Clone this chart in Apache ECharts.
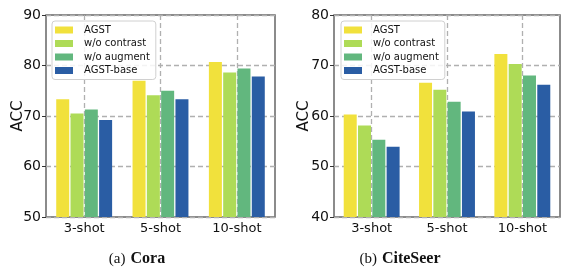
<!DOCTYPE html>
<html>
<head>
<meta charset="utf-8">
<script src="https://cdn.jsdelivr.net/npm/echarts@6/dist/echarts.min.js"></script>
<style>
  html, body { margin: 0; padding: 0; background: #fff; }
  #chart { width: 562px; height: 271px; }
</style>
</head>
<body>
<div id="chart"></div>
<script>
// Accuracy of AGST variants, few-shot settings
const categories = ['3-shot', '5-shot', '10-shot'];
const seriesNames = ['AGST', 'w/o contrast', 'w/o augment', 'AGST-base'];
const colors = ['#f1e13c', '#aedb57', '#62b77e', '#2a5da4'];

const coraValues = [
    [73.3, 77.0, 80.7],   // AGST
    [70.5, 74.1, 78.6],   // w/o contrast
    [71.3, 75.0, 79.4],   // w/o augment
    [69.2, 73.3, 77.8]    // AGST-base
];
const citeseerValues = [
    [60.3, 66.6, 72.3],
    [58.1, 65.2, 70.3],
    [55.3, 62.8, 68.0],
    [53.9, 60.9, 66.2]
];
const coraTicks = [50, 90];
const citeseerTicks = [40, 80];

const FONT = 'DejaVu Sans';
const gridLine = { show: true, lineStyle: { color: '#b0b0b0', type: [5, 3], width: 1.3 } };

function makeXAxis(gridIndex) {
    return {
        type: 'category',
        gridIndex: gridIndex,
        data: categories,
        axisLine: { show: false },
        axisTick: { show: false },
        axisLabel: { color: '#111', fontFamily: FONT, fontSize: 13, margin: 5 },
        splitLine: Object.assign({ alignWithLabel: true }, gridLine)
    };
}

function makeYAxis(gridIndex, ticks, gap) {
    return {
        type: 'value',
        gridIndex: gridIndex,
        min: ticks[0],
        max: ticks[1],
        interval: 10,
        name: 'ACC',
        nameLocation: 'middle',
        nameGap: gap,
        nameMoveOverlap: false,
        nameTextStyle: { color: '#111', fontFamily: FONT, fontSize: 15 },
        axisLine: { show: false },
        axisTick: { show: true, length: 4, lineStyle: { color: '#333' } },
        axisLabel: { color: '#111', fontFamily: FONT, fontSize: 14, margin: 5 },
        splitLine: gridLine
    };
}

function makeSeries(values, idx) {
    return values.map((vals, i) => ({
        name: seriesNames[i],
        type: 'bar',
        xAxisIndex: idx,
        yAxisIndex: idx,
        data: vals,
        barWidth: 13,
        barGap: '10%',
        itemStyle: { color: colors[i] }
    }));
}

function makeLegend(left) {
    return {
        left: left,
        top: 21,
        orient: 'vertical',
        itemWidth: 18,
        itemHeight: 7,
        itemGap: 3.5,
        padding: [4, 6, 4, 3],
        backgroundColor: 'rgba(255,255,255,0.85)',
        borderColor: '#d0d0d0',
        borderWidth: 1,
        borderRadius: 3,
        textStyle: { fontFamily: FONT, fontSize: 10, color: '#111', padding: [0, 0, 0, 6] },
        icon: 'rect',
        data: seriesNames
    };
}

const captionRich = {
    a: { fontFamily: 'Liberation Serif', fontSize: 15, fontWeight: 'normal', color: '#111' },
    b: { fontFamily: 'Liberation Serif', fontSize: 16, fontWeight: 'bold', color: '#111' }
};

const chart = echarts.init(document.getElementById('chart'), null, { renderer: 'canvas' });

const option = {
    animation: false,
    color: colors,
    title: [
        {
            text: '{a|(a)} {b|Cora}',
            left: 132, top: 245, textAlign: 'center',
            textStyle: { fontWeight: 'normal', rich: captionRich }
        },
        {
            text: '{a|(b)} {b|CiteSeer}',
            left: 395, top: 245, textAlign: 'center',
            textStyle: { fontWeight: 'normal', rich: captionRich }
        }
    ],
    legend: [makeLegend(52), makeLegend(341)],
    grid: [
        { left: 46, top: 15, width: 229, height: 202, show: true, borderColor: '#666', borderWidth: 1.5 },
        { left: 334, top: 15, width: 226, height: 202, show: true, borderColor: '#666', borderWidth: 1.5 }
    ],
    xAxis: [makeXAxis(0), makeXAxis(1)],
    yAxis: [makeYAxis(0, coraTicks, 20), makeYAxis(1, citeseerTicks, 22)],
    series: makeSeries(coraValues, 0).concat(makeSeries(citeseerValues, 1))
};

chart.setOption(option);
</script>
</body>
</html>
